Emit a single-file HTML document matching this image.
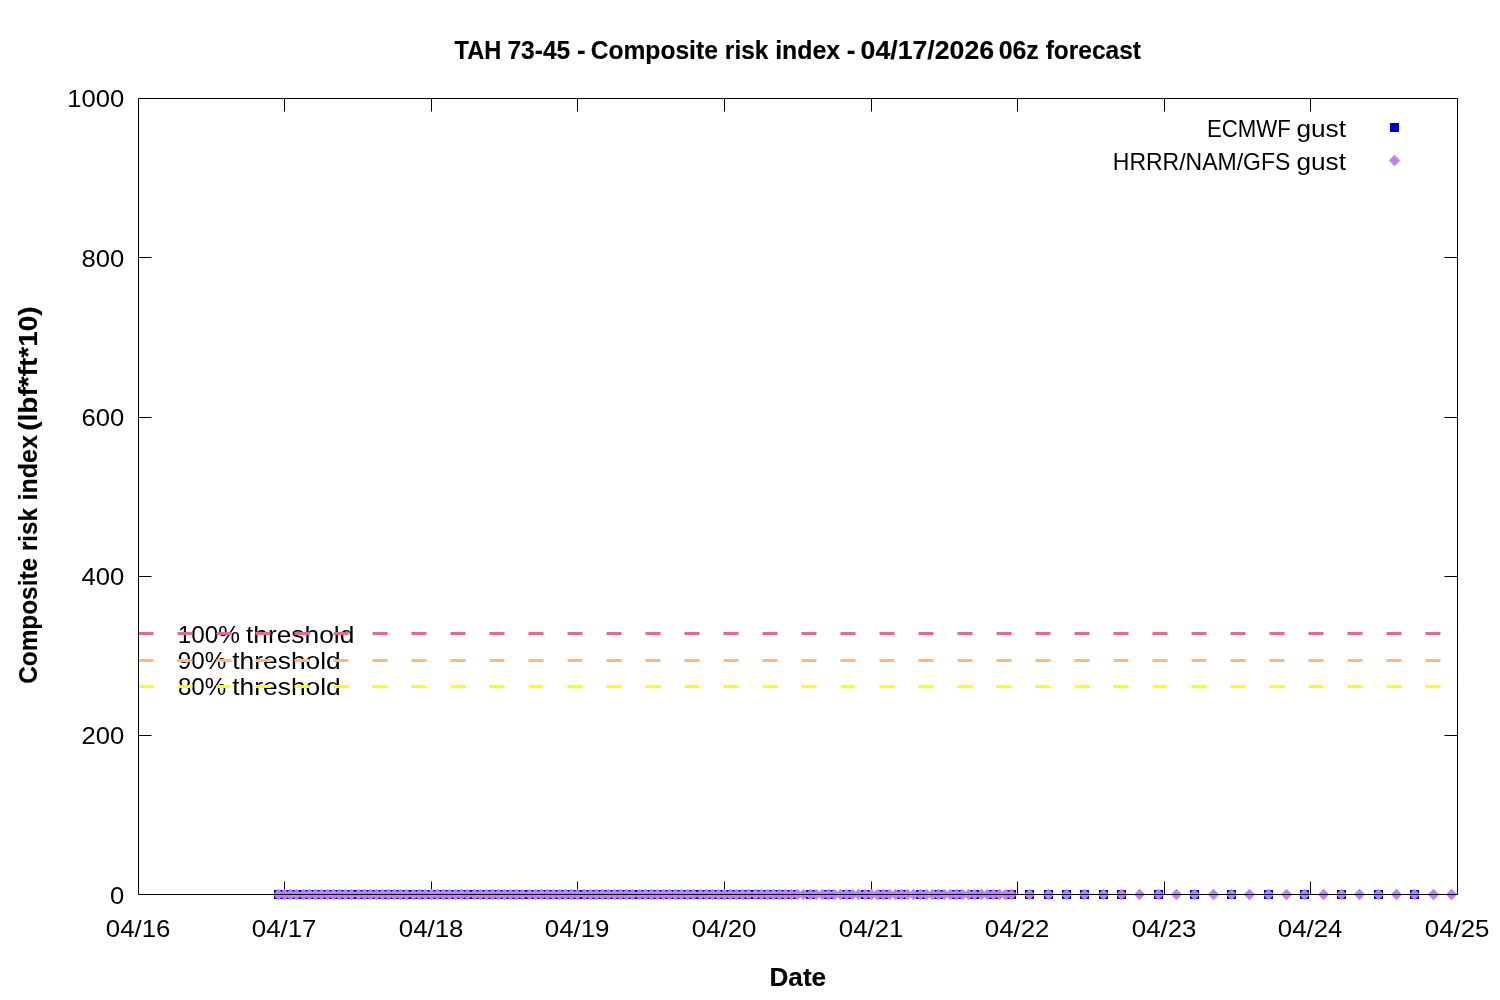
<!DOCTYPE html>
<html lang="en">
<head>
<meta charset="utf-8">
<title>TAH 73-45 - Composite risk index - 04/17/2026 06z forecast</title>
<style>
html,body{margin:0;padding:0;background:#fff;}
body{width:1500px;height:1000px;overflow:hidden;}
svg{display:block;}
svg text{font-family:"Liberation Sans",sans-serif;fill:#000;}
svg text[font-weight="bold"]{stroke:#000;stroke-width:0.15px;}
</style>
</head>
<body>
<svg width="1500" height="1000" viewBox="0 0 1500 1000">
<rect x="0" y="0" width="1500" height="1000" fill="#ffffff"/>
<text y="642.70" font-size="24"><tspan x="177.65" textLength="62.22" lengthAdjust="spacingAndGlyphs">100%</tspan> <tspan x="246.00" textLength="108.30" lengthAdjust="spacingAndGlyphs">threshold</tspan></text>
<text y="668.70" font-size="24"><tspan x="177.87" textLength="48.40" lengthAdjust="spacingAndGlyphs">90%</tspan> <tspan x="232.30" textLength="108.50" lengthAdjust="spacingAndGlyphs">threshold</tspan></text>
<text y="694.65" font-size="24"><tspan x="177.95" textLength="48.31" lengthAdjust="spacingAndGlyphs">80%</tspan> <tspan x="232.30" textLength="108.50" lengthAdjust="spacingAndGlyphs">threshold</tspan></text>
<line x1="138.5" y1="633.5" x2="1457.5" y2="633.5" stroke="#e16e86" stroke-width="3" stroke-dasharray="15 24"/>
<line x1="138.5" y1="660.5" x2="1457.5" y2="660.5" stroke="#fdb980" stroke-width="3" stroke-dasharray="15 24"/>
<line x1="138.5" y1="686.5" x2="1457.5" y2="686.5" stroke="#ffff00" stroke-width="3" stroke-dasharray="15 24"/>
<path fill="none" stroke="#000" stroke-width="1" d="M284.5 894.5v-13M284.5 98.5v13M431.5 894.5v-13M431.5 98.5v13M577.5 894.5v-13M577.5 98.5v13M724.5 894.5v-13M724.5 98.5v13M871.5 894.5v-13M871.5 98.5v13M1017.5 894.5v-13M1017.5 98.5v13M1164.5 894.5v-13M1164.5 98.5v13M1310.5 894.5v-13M1310.5 98.5v13M138.5 735.5h13M1457.5 735.5h-13M138.5 576.5h13M1457.5 576.5h-13M138.5 417.5h13M1457.5 417.5h-13M138.5 257.5h13M1457.5 257.5h-13"/>
<g fill="#0000cd">
<rect x="274" y="890" width="9" height="9"/>
<rect x="280" y="890" width="9" height="9"/>
<rect x="286" y="890" width="9" height="9"/>
<rect x="292" y="890" width="9" height="9"/>
<rect x="299" y="890" width="9" height="9"/>
<rect x="305" y="890" width="9" height="9"/>
<rect x="311" y="890" width="9" height="9"/>
<rect x="317" y="890" width="9" height="9"/>
<rect x="323" y="890" width="9" height="9"/>
<rect x="329" y="890" width="9" height="9"/>
<rect x="335" y="890" width="9" height="9"/>
<rect x="341" y="890" width="9" height="9"/>
<rect x="347" y="890" width="9" height="9"/>
<rect x="354" y="890" width="9" height="9"/>
<rect x="360" y="890" width="9" height="9"/>
<rect x="366" y="890" width="9" height="9"/>
<rect x="372" y="890" width="9" height="9"/>
<rect x="378" y="890" width="9" height="9"/>
<rect x="384" y="890" width="9" height="9"/>
<rect x="390" y="890" width="9" height="9"/>
<rect x="396" y="890" width="9" height="9"/>
<rect x="402" y="890" width="9" height="9"/>
<rect x="409" y="890" width="9" height="9"/>
<rect x="415" y="890" width="9" height="9"/>
<rect x="421" y="890" width="9" height="9"/>
<rect x="427" y="890" width="9" height="9"/>
<rect x="433" y="890" width="9" height="9"/>
<rect x="439" y="890" width="9" height="9"/>
<rect x="445" y="890" width="9" height="9"/>
<rect x="451" y="890" width="9" height="9"/>
<rect x="457" y="890" width="9" height="9"/>
<rect x="463" y="890" width="9" height="9"/>
<rect x="470" y="890" width="9" height="9"/>
<rect x="476" y="890" width="9" height="9"/>
<rect x="482" y="890" width="9" height="9"/>
<rect x="488" y="890" width="9" height="9"/>
<rect x="494" y="890" width="9" height="9"/>
<rect x="500" y="890" width="9" height="9"/>
<rect x="506" y="890" width="9" height="9"/>
<rect x="512" y="890" width="9" height="9"/>
<rect x="518" y="890" width="9" height="9"/>
<rect x="525" y="890" width="9" height="9"/>
<rect x="531" y="890" width="9" height="9"/>
<rect x="537" y="890" width="9" height="9"/>
<rect x="543" y="890" width="9" height="9"/>
<rect x="549" y="890" width="9" height="9"/>
<rect x="555" y="890" width="9" height="9"/>
<rect x="561" y="890" width="9" height="9"/>
<rect x="567" y="890" width="9" height="9"/>
<rect x="573" y="890" width="9" height="9"/>
<rect x="580" y="890" width="9" height="9"/>
<rect x="586" y="890" width="9" height="9"/>
<rect x="592" y="890" width="9" height="9"/>
<rect x="598" y="890" width="9" height="9"/>
<rect x="604" y="890" width="9" height="9"/>
<rect x="610" y="890" width="9" height="9"/>
<rect x="616" y="890" width="9" height="9"/>
<rect x="622" y="890" width="9" height="9"/>
<rect x="628" y="890" width="9" height="9"/>
<rect x="635" y="890" width="9" height="9"/>
<rect x="641" y="890" width="9" height="9"/>
<rect x="647" y="890" width="9" height="9"/>
<rect x="653" y="890" width="9" height="9"/>
<rect x="659" y="890" width="9" height="9"/>
<rect x="665" y="890" width="9" height="9"/>
<rect x="671" y="890" width="9" height="9"/>
<rect x="677" y="890" width="9" height="9"/>
<rect x="683" y="890" width="9" height="9"/>
<rect x="689" y="890" width="9" height="9"/>
<rect x="696" y="890" width="9" height="9"/>
<rect x="702" y="890" width="9" height="9"/>
<rect x="708" y="890" width="9" height="9"/>
<rect x="714" y="890" width="9" height="9"/>
<rect x="720" y="890" width="9" height="9"/>
<rect x="726" y="890" width="9" height="9"/>
<rect x="732" y="890" width="9" height="9"/>
<rect x="738" y="890" width="9" height="9"/>
<rect x="744" y="890" width="9" height="9"/>
<rect x="751" y="890" width="9" height="9"/>
<rect x="757" y="890" width="9" height="9"/>
<rect x="763" y="890" width="9" height="9"/>
<rect x="769" y="890" width="9" height="9"/>
<rect x="775" y="890" width="9" height="9"/>
<rect x="781" y="890" width="9" height="9"/>
<rect x="787" y="890" width="9" height="9"/>
<rect x="806" y="890" width="9" height="9"/>
<rect x="824" y="890" width="9" height="9"/>
<rect x="842" y="890" width="9" height="9"/>
<rect x="861" y="890" width="9" height="9"/>
<rect x="879" y="890" width="9" height="9"/>
<rect x="897" y="890" width="9" height="9"/>
<rect x="916" y="890" width="9" height="9"/>
<rect x="934" y="890" width="9" height="9"/>
<rect x="952" y="890" width="9" height="9"/>
<rect x="970" y="890" width="9" height="9"/>
<rect x="989" y="890" width="9" height="9"/>
<rect x="1007" y="890" width="9" height="9"/>
<rect x="1025" y="890" width="9" height="9"/>
<rect x="1044" y="890" width="9" height="9"/>
<rect x="1062" y="890" width="9" height="9"/>
<rect x="1080" y="890" width="9" height="9"/>
<rect x="1099" y="890" width="9" height="9"/>
<rect x="1117" y="890" width="9" height="9"/>
<rect x="1154" y="890" width="9" height="9"/>
<rect x="1190" y="890" width="9" height="9"/>
<rect x="1227" y="890" width="9" height="9"/>
<rect x="1264" y="890" width="9" height="9"/>
<rect x="1300" y="890" width="9" height="9"/>
<rect x="1337" y="890" width="9" height="9"/>
<rect x="1374" y="890" width="9" height="9"/>
<rect x="1410" y="890" width="9" height="9"/>
</g>
<g fill="#c080ff">
<path d="M272.85 894.5L278.5 888.85L284.15 894.5L278.5 900.15z"/>
<path d="M278.85 894.5L284.5 888.85L290.15 894.5L284.5 900.15z"/>
<path d="M284.85 894.5L290.5 888.85L296.15 894.5L290.5 900.15z"/>
<path d="M290.85 894.5L296.5 888.85L302.15 894.5L296.5 900.15z"/>
<path d="M297.85 894.5L303.5 888.85L309.15 894.5L303.5 900.15z"/>
<path d="M303.85 894.5L309.5 888.85L315.15 894.5L309.5 900.15z"/>
<path d="M309.85 894.5L315.5 888.85L321.15 894.5L315.5 900.15z"/>
<path d="M315.85 894.5L321.5 888.85L327.15 894.5L321.5 900.15z"/>
<path d="M321.85 894.5L327.5 888.85L333.15 894.5L327.5 900.15z"/>
<path d="M327.85 894.5L333.5 888.85L339.15 894.5L333.5 900.15z"/>
<path d="M333.85 894.5L339.5 888.85L345.15 894.5L339.5 900.15z"/>
<path d="M339.85 894.5L345.5 888.85L351.15 894.5L345.5 900.15z"/>
<path d="M345.85 894.5L351.5 888.85L357.15 894.5L351.5 900.15z"/>
<path d="M352.85 894.5L358.5 888.85L364.15 894.5L358.5 900.15z"/>
<path d="M358.85 894.5L364.5 888.85L370.15 894.5L364.5 900.15z"/>
<path d="M364.85 894.5L370.5 888.85L376.15 894.5L370.5 900.15z"/>
<path d="M370.85 894.5L376.5 888.85L382.15 894.5L376.5 900.15z"/>
<path d="M376.85 894.5L382.5 888.85L388.15 894.5L382.5 900.15z"/>
<path d="M382.85 894.5L388.5 888.85L394.15 894.5L388.5 900.15z"/>
<path d="M388.85 894.5L394.5 888.85L400.15 894.5L394.5 900.15z"/>
<path d="M394.85 894.5L400.5 888.85L406.15 894.5L400.5 900.15z"/>
<path d="M400.85 894.5L406.5 888.85L412.15 894.5L406.5 900.15z"/>
<path d="M407.85 894.5L413.5 888.85L419.15 894.5L413.5 900.15z"/>
<path d="M413.85 894.5L419.5 888.85L425.15 894.5L419.5 900.15z"/>
<path d="M419.85 894.5L425.5 888.85L431.15 894.5L425.5 900.15z"/>
<path d="M425.85 894.5L431.5 888.85L437.15 894.5L431.5 900.15z"/>
<path d="M431.85 894.5L437.5 888.85L443.15 894.5L437.5 900.15z"/>
<path d="M437.85 894.5L443.5 888.85L449.15 894.5L443.5 900.15z"/>
<path d="M443.85 894.5L449.5 888.85L455.15 894.5L449.5 900.15z"/>
<path d="M449.85 894.5L455.5 888.85L461.15 894.5L455.5 900.15z"/>
<path d="M455.85 894.5L461.5 888.85L467.15 894.5L461.5 900.15z"/>
<path d="M461.85 894.5L467.5 888.85L473.15 894.5L467.5 900.15z"/>
<path d="M468.85 894.5L474.5 888.85L480.15 894.5L474.5 900.15z"/>
<path d="M474.85 894.5L480.5 888.85L486.15 894.5L480.5 900.15z"/>
<path d="M480.85 894.5L486.5 888.85L492.15 894.5L486.5 900.15z"/>
<path d="M486.85 894.5L492.5 888.85L498.15 894.5L492.5 900.15z"/>
<path d="M492.85 894.5L498.5 888.85L504.15 894.5L498.5 900.15z"/>
<path d="M498.85 894.5L504.5 888.85L510.15 894.5L504.5 900.15z"/>
<path d="M504.85 894.5L510.5 888.85L516.15 894.5L510.5 900.15z"/>
<path d="M510.85 894.5L516.5 888.85L522.15 894.5L516.5 900.15z"/>
<path d="M516.85 894.5L522.5 888.85L528.15 894.5L522.5 900.15z"/>
<path d="M523.85 894.5L529.5 888.85L535.15 894.5L529.5 900.15z"/>
<path d="M529.85 894.5L535.5 888.85L541.15 894.5L535.5 900.15z"/>
<path d="M535.85 894.5L541.5 888.85L547.15 894.5L541.5 900.15z"/>
<path d="M541.85 894.5L547.5 888.85L553.15 894.5L547.5 900.15z"/>
<path d="M547.85 894.5L553.5 888.85L559.15 894.5L553.5 900.15z"/>
<path d="M553.85 894.5L559.5 888.85L565.15 894.5L559.5 900.15z"/>
<path d="M559.85 894.5L565.5 888.85L571.15 894.5L565.5 900.15z"/>
<path d="M565.85 894.5L571.5 888.85L577.15 894.5L571.5 900.15z"/>
<path d="M571.85 894.5L577.5 888.85L583.15 894.5L577.5 900.15z"/>
<path d="M578.85 894.5L584.5 888.85L590.15 894.5L584.5 900.15z"/>
<path d="M584.85 894.5L590.5 888.85L596.15 894.5L590.5 900.15z"/>
<path d="M590.85 894.5L596.5 888.85L602.15 894.5L596.5 900.15z"/>
<path d="M596.85 894.5L602.5 888.85L608.15 894.5L602.5 900.15z"/>
<path d="M602.85 894.5L608.5 888.85L614.15 894.5L608.5 900.15z"/>
<path d="M608.85 894.5L614.5 888.85L620.15 894.5L614.5 900.15z"/>
<path d="M614.85 894.5L620.5 888.85L626.15 894.5L620.5 900.15z"/>
<path d="M620.85 894.5L626.5 888.85L632.15 894.5L626.5 900.15z"/>
<path d="M626.85 894.5L632.5 888.85L638.15 894.5L632.5 900.15z"/>
<path d="M633.85 894.5L639.5 888.85L645.15 894.5L639.5 900.15z"/>
<path d="M639.85 894.5L645.5 888.85L651.15 894.5L645.5 900.15z"/>
<path d="M645.85 894.5L651.5 888.85L657.15 894.5L651.5 900.15z"/>
<path d="M651.85 894.5L657.5 888.85L663.15 894.5L657.5 900.15z"/>
<path d="M657.85 894.5L663.5 888.85L669.15 894.5L663.5 900.15z"/>
<path d="M663.85 894.5L669.5 888.85L675.15 894.5L669.5 900.15z"/>
<path d="M669.85 894.5L675.5 888.85L681.15 894.5L675.5 900.15z"/>
<path d="M675.85 894.5L681.5 888.85L687.15 894.5L681.5 900.15z"/>
<path d="M681.85 894.5L687.5 888.85L693.15 894.5L687.5 900.15z"/>
<path d="M687.85 894.5L693.5 888.85L699.15 894.5L693.5 900.15z"/>
<path d="M694.85 894.5L700.5 888.85L706.15 894.5L700.5 900.15z"/>
<path d="M700.85 894.5L706.5 888.85L712.15 894.5L706.5 900.15z"/>
<path d="M706.85 894.5L712.5 888.85L718.15 894.5L712.5 900.15z"/>
<path d="M712.85 894.5L718.5 888.85L724.15 894.5L718.5 900.15z"/>
<path d="M718.85 894.5L724.5 888.85L730.15 894.5L724.5 900.15z"/>
<path d="M724.85 894.5L730.5 888.85L736.15 894.5L730.5 900.15z"/>
<path d="M730.85 894.5L736.5 888.85L742.15 894.5L736.5 900.15z"/>
<path d="M736.85 894.5L742.5 888.85L748.15 894.5L742.5 900.15z"/>
<path d="M742.85 894.5L748.5 888.85L754.15 894.5L748.5 900.15z"/>
<path d="M749.85 894.5L755.5 888.85L761.15 894.5L755.5 900.15z"/>
<path d="M755.85 894.5L761.5 888.85L767.15 894.5L761.5 900.15z"/>
<path d="M761.85 894.5L767.5 888.85L773.15 894.5L767.5 900.15z"/>
<path d="M767.85 894.5L773.5 888.85L779.15 894.5L773.5 900.15z"/>
<path d="M773.85 894.5L779.5 888.85L785.15 894.5L779.5 900.15z"/>
<path d="M779.85 894.5L785.5 888.85L791.15 894.5L785.5 900.15z"/>
<path d="M785.85 894.5L791.5 888.85L797.15 894.5L791.5 900.15z"/>
<path d="M791.85 894.5L797.5 888.85L803.15 894.5L797.5 900.15z"/>
<path d="M797.85 894.5L803.5 888.85L809.15 894.5L803.5 900.15z"/>
<path d="M804.85 894.5L810.5 888.85L816.15 894.5L810.5 900.15z"/>
<path d="M810.85 894.5L816.5 888.85L822.15 894.5L816.5 900.15z"/>
<path d="M816.85 894.5L822.5 888.85L828.15 894.5L822.5 900.15z"/>
<path d="M822.85 894.5L828.5 888.85L834.15 894.5L828.5 900.15z"/>
<path d="M828.85 894.5L834.5 888.85L840.15 894.5L834.5 900.15z"/>
<path d="M834.85 894.5L840.5 888.85L846.15 894.5L840.5 900.15z"/>
<path d="M840.85 894.5L846.5 888.85L852.15 894.5L846.5 900.15z"/>
<path d="M846.85 894.5L852.5 888.85L858.15 894.5L852.5 900.15z"/>
<path d="M852.85 894.5L858.5 888.85L864.15 894.5L858.5 900.15z"/>
<path d="M859.85 894.5L865.5 888.85L871.15 894.5L865.5 900.15z"/>
<path d="M865.85 894.5L871.5 888.85L877.15 894.5L871.5 900.15z"/>
<path d="M871.85 894.5L877.5 888.85L883.15 894.5L877.5 900.15z"/>
<path d="M877.85 894.5L883.5 888.85L889.15 894.5L883.5 900.15z"/>
<path d="M883.85 894.5L889.5 888.85L895.15 894.5L889.5 900.15z"/>
<path d="M889.85 894.5L895.5 888.85L901.15 894.5L895.5 900.15z"/>
<path d="M895.85 894.5L901.5 888.85L907.15 894.5L901.5 900.15z"/>
<path d="M901.85 894.5L907.5 888.85L913.15 894.5L907.5 900.15z"/>
<path d="M907.85 894.5L913.5 888.85L919.15 894.5L913.5 900.15z"/>
<path d="M914.85 894.5L920.5 888.85L926.15 894.5L920.5 900.15z"/>
<path d="M920.85 894.5L926.5 888.85L932.15 894.5L926.5 900.15z"/>
<path d="M926.85 894.5L932.5 888.85L938.15 894.5L932.5 900.15z"/>
<path d="M932.85 894.5L938.5 888.85L944.15 894.5L938.5 900.15z"/>
<path d="M938.85 894.5L944.5 888.85L950.15 894.5L944.5 900.15z"/>
<path d="M944.85 894.5L950.5 888.85L956.15 894.5L950.5 900.15z"/>
<path d="M950.85 894.5L956.5 888.85L962.15 894.5L956.5 900.15z"/>
<path d="M956.85 894.5L962.5 888.85L968.15 894.5L962.5 900.15z"/>
<path d="M962.85 894.5L968.5 888.85L974.15 894.5L968.5 900.15z"/>
<path d="M968.85 894.5L974.5 888.85L980.15 894.5L974.5 900.15z"/>
<path d="M975.85 894.5L981.5 888.85L987.15 894.5L981.5 900.15z"/>
<path d="M981.85 894.5L987.5 888.85L993.15 894.5L987.5 900.15z"/>
<path d="M987.85 894.5L993.5 888.85L999.15 894.5L993.5 900.15z"/>
<path d="M993.85 894.5L999.5 888.85L1005.15 894.5L999.5 900.15z"/>
<path d="M999.85 894.5L1005.5 888.85L1011.15 894.5L1005.5 900.15z"/>
<path d="M1005.85 894.5L1011.5 888.85L1017.15 894.5L1011.5 900.15z"/>
<path d="M1023.85 894.5L1029.5 888.85L1035.15 894.5L1029.5 900.15z"/>
<path d="M1042.85 894.5L1048.5 888.85L1054.15 894.5L1048.5 900.15z"/>
<path d="M1060.85 894.5L1066.5 888.85L1072.15 894.5L1066.5 900.15z"/>
<path d="M1078.85 894.5L1084.5 888.85L1090.15 894.5L1084.5 900.15z"/>
<path d="M1097.85 894.5L1103.5 888.85L1109.15 894.5L1103.5 900.15z"/>
<path d="M1115.85 894.5L1121.5 888.85L1127.15 894.5L1121.5 900.15z"/>
<path d="M1133.85 894.5L1139.5 888.85L1145.15 894.5L1139.5 900.15z"/>
<path d="M1152.85 894.5L1158.5 888.85L1164.15 894.5L1158.5 900.15z"/>
<path d="M1170.85 894.5L1176.5 888.85L1182.15 894.5L1176.5 900.15z"/>
<path d="M1188.85 894.5L1194.5 888.85L1200.15 894.5L1194.5 900.15z"/>
<path d="M1207.85 894.5L1213.5 888.85L1219.15 894.5L1213.5 900.15z"/>
<path d="M1225.85 894.5L1231.5 888.85L1237.15 894.5L1231.5 900.15z"/>
<path d="M1243.85 894.5L1249.5 888.85L1255.15 894.5L1249.5 900.15z"/>
<path d="M1262.85 894.5L1268.5 888.85L1274.15 894.5L1268.5 900.15z"/>
<path d="M1280.85 894.5L1286.5 888.85L1292.15 894.5L1286.5 900.15z"/>
<path d="M1298.85 894.5L1304.5 888.85L1310.15 894.5L1304.5 900.15z"/>
<path d="M1317.85 894.5L1323.5 888.85L1329.15 894.5L1323.5 900.15z"/>
<path d="M1335.85 894.5L1341.5 888.85L1347.15 894.5L1341.5 900.15z"/>
<path d="M1353.85 894.5L1359.5 888.85L1365.15 894.5L1359.5 900.15z"/>
<path d="M1372.85 894.5L1378.5 888.85L1384.15 894.5L1378.5 900.15z"/>
<path d="M1390.85 894.5L1396.5 888.85L1402.15 894.5L1396.5 900.15z"/>
<path d="M1408.85 894.5L1414.5 888.85L1420.15 894.5L1414.5 900.15z"/>
<path d="M1427.85 894.5L1433.5 888.85L1439.15 894.5L1433.5 900.15z"/>
<path d="M1445.85 894.5L1451.5 888.85L1457.15 894.5L1451.5 900.15z"/>
</g>
<text y="137.00" font-size="24"><tspan x="1206.98" textLength="83.91" lengthAdjust="spacingAndGlyphs">ECMWF</tspan> <tspan x="1296.40" textLength="49.59" lengthAdjust="spacingAndGlyphs">gust</tspan></text>
<text y="169.90" font-size="24"><tspan x="1112.81" textLength="177.54" lengthAdjust="spacingAndGlyphs">HRRR/NAM/GFS</tspan> <tspan x="1296.40" textLength="49.59" lengthAdjust="spacingAndGlyphs">gust</tspan></text>
<rect x="1390" y="123" width="9" height="9" fill="#0000cd"/>
<path fill="#c080ff" d="M1388.85 160.5L1394.5 154.85L1400.15 160.5L1394.5 166.15z"/>
<path fill="none" stroke="#000" stroke-width="1" d="M138.5 98.5H1457.5V894.5H138.5z"/>
<text x="110.03" y="904.00" textLength="14.27" lengthAdjust="spacingAndGlyphs" font-size="24.5">0</text>
<text x="81.50" y="744.00" textLength="42.80" lengthAdjust="spacingAndGlyphs" font-size="24.5">200</text>
<text x="81.50" y="585.00" textLength="42.80" lengthAdjust="spacingAndGlyphs" font-size="24.5">400</text>
<text x="81.50" y="426.00" textLength="42.80" lengthAdjust="spacingAndGlyphs" font-size="24.5">600</text>
<text x="81.50" y="267.00" textLength="42.80" lengthAdjust="spacingAndGlyphs" font-size="24.5">800</text>
<text x="67.23" y="107.00" textLength="57.07" lengthAdjust="spacingAndGlyphs" font-size="24.5">1000</text>
<text x="105.79" y="937.00" textLength="64.72" lengthAdjust="spacingAndGlyphs" font-size="24.5">04/16</text>
<text x="251.79" y="937.00" textLength="64.72" lengthAdjust="spacingAndGlyphs" font-size="24.5">04/17</text>
<text x="398.79" y="937.00" textLength="64.72" lengthAdjust="spacingAndGlyphs" font-size="24.5">04/18</text>
<text x="544.79" y="937.00" textLength="64.72" lengthAdjust="spacingAndGlyphs" font-size="24.5">04/19</text>
<text x="691.79" y="937.00" textLength="64.72" lengthAdjust="spacingAndGlyphs" font-size="24.5">04/20</text>
<text x="838.79" y="937.00" textLength="64.72" lengthAdjust="spacingAndGlyphs" font-size="24.5">04/21</text>
<text x="984.79" y="937.00" textLength="64.72" lengthAdjust="spacingAndGlyphs" font-size="24.5">04/22</text>
<text x="1131.79" y="937.00" textLength="64.72" lengthAdjust="spacingAndGlyphs" font-size="24.5">04/23</text>
<text x="1277.79" y="937.00" textLength="64.72" lengthAdjust="spacingAndGlyphs" font-size="24.5">04/24</text>
<text x="1424.79" y="937.00" textLength="64.72" lengthAdjust="spacingAndGlyphs" font-size="24.5">04/25</text>
<text y="58.60" font-size="25" font-weight="bold"><tspan x="454.62" textLength="46.74" lengthAdjust="spacingAndGlyphs">TAH</tspan> <tspan x="507.42" textLength="62.89" lengthAdjust="spacingAndGlyphs">73-45</tspan> <tspan x="577.07" textLength="8.59" lengthAdjust="spacingAndGlyphs">-</tspan> <tspan x="590.67" textLength="127.20" lengthAdjust="spacingAndGlyphs">Composite</tspan> <tspan x="724.86" textLength="43.54" lengthAdjust="spacingAndGlyphs">risk</tspan> <tspan x="775.14" textLength="64.97" lengthAdjust="spacingAndGlyphs">index</tspan> <tspan x="846.77" textLength="8.59" lengthAdjust="spacingAndGlyphs">-</tspan> <tspan x="860.62" textLength="133.47" lengthAdjust="spacingAndGlyphs">04/17/2026</tspan> <tspan x="998.69" textLength="40.13" lengthAdjust="spacingAndGlyphs">06z</tspan> <tspan x="1045.66" textLength="95.27" lengthAdjust="spacingAndGlyphs">forecast</tspan></text>
<text x="769.53" y="985.50" textLength="56.59" lengthAdjust="spacingAndGlyphs" font-size="25" font-weight="bold">Date</text>
<text transform="translate(36.9 0) rotate(-90)" y="0.00" font-size="25" font-weight="bold"><tspan x="-683.72" textLength="125.78" lengthAdjust="spacingAndGlyphs">Composite</tspan> <tspan x="-551.12" textLength="43.12" lengthAdjust="spacingAndGlyphs">risk</tspan> <tspan x="-500.48" textLength="65.48" lengthAdjust="spacingAndGlyphs">index</tspan> <tspan x="-430.82" textLength="124.44" lengthAdjust="spacingAndGlyphs">(lbf*ft*10)</tspan></text>
</svg>
</body>
</html>
